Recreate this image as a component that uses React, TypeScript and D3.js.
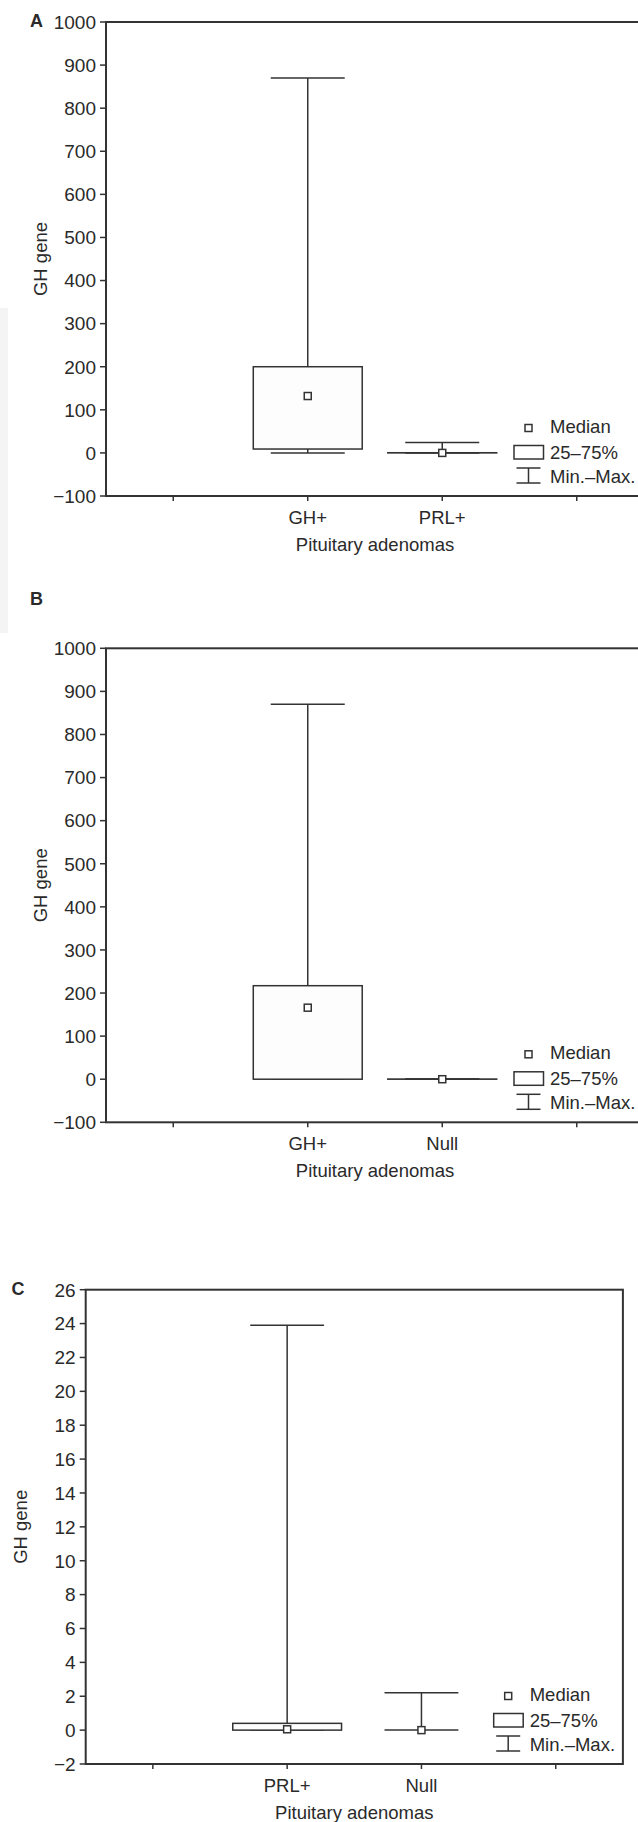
import React from 'react';
import * as d3 from 'd3';

// Box plots of GH gene expression across pituitary adenoma types (panels A–C)

const xLabelsA = ['', 'GH+', 'PRL+', ''];
const xLabelsB = ['', 'GH+', 'Null', ''];
const xLabelsC = ['', 'PRL+', 'Null', ''];

const yTicksAB = [-100, 0, 100, 200, 300, 400, 500, 600, 700, 800, 900, 1000];
const yTicksC = [-2, 0, 2, 4, 6, 8, 10, 12, 14, 16, 18, 20, 22, 24, 26];

// A: GH+ vs PRL+
const minA = [0, 0];
const q1A = [9, 0];
const medianA = [132, 0];
const q3A = [200, 0.4];
const maxA = [870, 24];

// B: GH+ vs Null
const minB = [0, 0];
const q1B = [0, 0];
const medianB = [166, 0];
const q3B = [217, 0.4];
const maxB = [870, 0.4];

// C: PRL+ vs Null
const minC = [0, 0];
const q1C = [0, 0];
const medianC = [0.05, 0];
const q3C = [0.4, 0];
const maxC = [23.9, 2.2];

const FONT = '"Liberation Sans", Arial, sans-serif';
const INK = '#2a2a2a';
const LINE = '#333';

interface PanelProps {
  label: string;
  labelX: number;
  labelY: number;
  left: number;
  top: number;
  bottom: number;
  step: number;
  yDomain: [number, number];
  yTicks: number[];
  xLabels: string[];
  mins: number[];
  q1s: number[];
  medians: number[];
  q3s: number[];
  maxs: number[];
}

const Panel: React.FC<PanelProps> = (p) => {
  const right = p.left + p.step * 4;
  const x = d3.scaleLinear().domain([0.5, 4.5]).range([p.left, right]);
  const y = d3.scaleLinear().domain(p.yDomain).range([p.bottom, p.top]);
  const boxW = p.step * 0.81;
  const capW = p.step * 0.55;
  const groups = p.mins.map((_, i) => i + 2); // data sit on the 2nd and 3rd ticks

  const lx = p.left;
  const ly = p.bottom;

  return (
    <g fontFamily={FONT} fill={INK}>
      <text x={p.labelX} y={p.labelY} fontSize={18} fontWeight="bold">
        {p.label}
      </text>

      {/* Y axis ticks */}
      {p.yTicks.map((t) => (
        <g key={t}>
          <line x1={p.left - 6} x2={p.left} y1={y(t)} y2={y(t)} stroke={LINE} strokeWidth={1.5} />
          <text x={p.left - 10} y={y(t) + 6.8} textAnchor="end" fontSize={19}>
            {t < 0 ? `\u2212${Math.abs(t)}` : t}
          </text>
        </g>
      ))}

      {/* X axis ticks */}
      {p.xLabels.map((lab, i) => (
        <g key={i}>
          <line x1={x(i + 1)} x2={x(i + 1)} y1={p.bottom} y2={p.bottom + 5} stroke={LINE} strokeWidth={1.5} />
          <text x={x(i + 1)} y={p.bottom + 28} textAnchor="middle" fontSize={18.5}>
            {lab}
          </text>
        </g>
      ))}

      <text x={x(2.5)} y={p.bottom + 55} textAnchor="middle" fontSize={18.5}>
        Pituitary adenomas
      </text>
      <text
        transform={`translate(${p.left - 59},${(p.top + p.bottom) / 2}) rotate(-90)`}
        textAnchor="middle"
        fontSize={18.5}
      >
        GH gene
      </text>

      {/* Boxes */}
      {groups.map((g, i) => {
        const cx = x(g);
        return (
          <g key={g} fill="none" stroke={LINE} strokeWidth={1.5}>
            <line x1={cx} x2={cx} y1={y(p.q3s[i])} y2={y(p.maxs[i])} />
            <line x1={cx} x2={cx} y1={y(p.q1s[i])} y2={y(p.mins[i])} />
            <line x1={cx - capW / 2} x2={cx + capW / 2} y1={y(p.maxs[i])} y2={y(p.maxs[i])} />
            <line x1={cx - capW / 2} x2={cx + capW / 2} y1={y(p.mins[i])} y2={y(p.mins[i])} />
            <rect
              x={cx - boxW / 2}
              y={y(p.q3s[i])}
              width={boxW}
              height={Math.max(0, y(p.q1s[i]) - y(p.q3s[i]))}
              fill="#fdfdfd"
            />
            <rect x={cx - 3.5} y={y(p.medians[i]) - 3.5} width={7} height={7} fill="#fff" />
          </g>
        );
      })}

      {/* Frame */}
      <rect
        x={p.left}
        y={p.top}
        width={right - p.left}
        height={p.bottom - p.top}
        fill="none"
        stroke={LINE}
        strokeWidth={2}
      />

      {/* Legend */}
      <g stroke={LINE} strokeWidth={1.5} fill="none">
        <rect x={lx + 419} y={ly - 71.5} width={7} height={7} fill="#fff" />
        <rect x={lx + 408} y={ly - 50.5} width={29.5} height={13.5} fill="#fff" />
        <line x1={lx + 410.5} x2={lx + 434.5} y1={ly - 28} y2={ly - 28} />
        <line x1={lx + 410.5} x2={lx + 434.5} y1={ly - 13} y2={ly - 13} />
        <line x1={lx + 422.5} x2={lx + 422.5} y1={ly - 28} y2={ly - 13} />
      </g>
      <g fontSize={18.5}>
        <text x={lx + 444} y={ly - 63}>Median</text>
        <text x={lx + 444} y={ly - 37.5}>25–75%</text>
        <text x={lx + 444} y={ly - 13}>Min.–Max.</text>
      </g>
    </g>
  );
};

export default function App() {
  return (
    <svg
      width={638}
      height={1822}
      style={{ position: 'absolute', left: 0, top: 0, background: '#fff' }}
    >
      <rect x={0} y={308} width={8} height={325} fill="#f4f4f4" />
      <Panel
        label="A"
        labelX={30}
        labelY={27}
        left={106}
        top={22}
        bottom={496}
        step={134.5}
        yDomain={[-100, 1000]}
        yTicks={yTicksAB}
        xLabels={xLabelsA}
        mins={minA}
        q1s={q1A}
        medians={medianA}
        q3s={q3A}
        maxs={maxA}
      />
      <Panel
        label="B"
        labelX={30}
        labelY={605}
        left={106}
        top={648.3}
        bottom={1122.3}
        step={134.5}
        yDomain={[-100, 1000]}
        yTicks={yTicksAB}
        xLabels={xLabelsB}
        mins={minB}
        q1s={q1B}
        medians={medianB}
        q3s={q3B}
        maxs={maxB}
      />
      <Panel
        label="C"
        labelX={11.5}
        labelY={1295}
        left={85.7}
        top={1289.7}
        bottom={1764}
        step={134.3}
        yDomain={[-2, 26]}
        yTicks={yTicksC}
        xLabels={xLabelsC}
        mins={minC}
        q1s={q1C}
        medians={medianC}
        q3s={q3C}
        maxs={maxC}
      />
    </svg>
  );
}
